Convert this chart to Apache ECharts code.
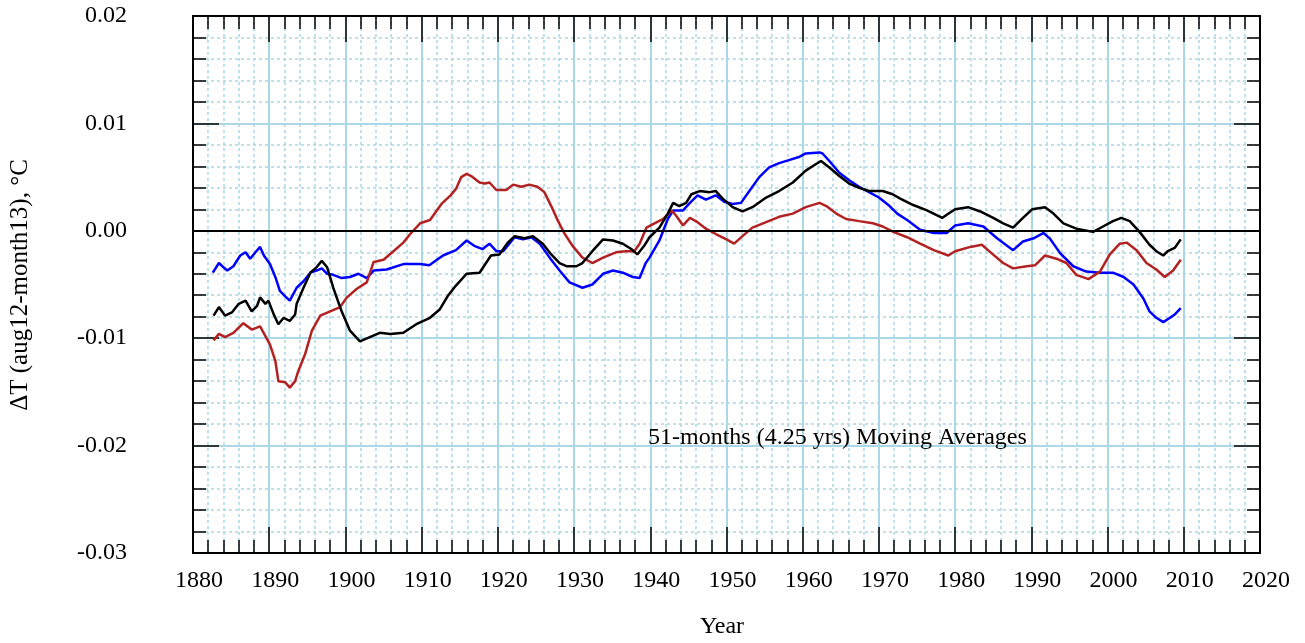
<!DOCTYPE html>
<html>
<head>
<meta charset="utf-8">
<script src="https://cdn.jsdelivr.net/npm/echarts@6/dist/echarts.min.js"></script>
<style>
html,body{margin:0;padding:0;background:#fff;}
#chart{width:1305px;height:643px;}
</style>
</head>
<body>
<div id="chart"></div>
<script>
// ---- data ----
var blueYears = [1882.6,1883.4,1884.0,1884.5,1885.3,1886.2,1886.9,1887.5,1888.2,1888.8,1889.3,1890.1,1890.8,1891.4,1892.1,1892.7,1893.6,1894.5,1895.4,1896.2,1896.9,1897.6,1898.4,1899.5,1900.6,1901.7,1902.8,1903.7,1905.4,1907.6,1909.8,1911.0,1912.8,1914.5,1915.9,1916.9,1918.0,1918.9,1919.8,1920.7,1922.2,1923.3,1924.4,1925.5,1926.8,1928.1,1929.4,1931.1,1932.4,1933.8,1935.1,1936.4,1937.7,1938.6,1939.4,1939.9,1941.2,1942.3,1943.0,1944.3,1945.2,1946.2,1947.3,1948.6,1949.7,1950.8,1951.9,1953.0,1954.3,1955.6,1956.9,1958.3,1959.6,1960.4,1962.2,1962.6,1963.5,1964.8,1966.1,1967.4,1968.7,1970.0,1971.4,1972.4,1973.7,1975.4,1977.2,1978.9,1980.0,1981.7,1983.7,1985.5,1987.6,1988.9,1990.3,1991.6,1992.4,1993.8,1995.5,1997.2,1999.0,2000.7,2002.1,2003.4,2004.7,2005.5,2006.4,2007.3,2008.2,2008.8,2009.6];
var blueValues = [-0.0039,-0.0030,-0.0034,-0.0037,-0.0033,-0.0023,-0.0020,-0.0026,-0.0020,-0.0015,-0.0023,-0.0031,-0.0043,-0.0056,-0.0061,-0.0065,-0.0053,-0.0047,-0.0039,-0.0037,-0.0035,-0.0040,-0.0041,-0.0044,-0.0043,-0.0040,-0.0044,-0.0037,-0.0036,-0.0031,-0.0031,-0.0032,-0.0023,-0.0018,-0.0009,-0.0014,-0.0017,-0.0012,-0.0019,-0.0019,-0.0006,-0.0008,-0.0006,-0.0012,-0.0025,-0.0037,-0.0048,-0.0053,-0.0050,-0.0040,-0.0037,-0.0039,-0.0043,-0.0044,-0.0030,-0.0025,-0.0009,0.0011,0.0019,0.0019,0.0026,0.0033,0.0029,0.0033,0.0027,0.0025,0.0026,0.0037,0.0050,0.0059,0.0063,0.0066,0.0069,0.0072,0.0073,0.0072,0.0065,0.0054,0.0047,0.0041,0.0036,0.0031,0.0023,0.0016,0.0010,0.0001,-0.0002,-0.0002,0.0005,0.0007,0.0004,-0.0007,-0.0018,-0.0010,-0.0007,-0.0002,-0.0007,-0.0021,-0.0033,-0.0038,-0.0039,-0.0039,-0.0043,-0.0050,-0.0063,-0.0075,-0.0081,-0.0085,-0.0081,-0.0078,-0.0072];

var blackYears = [1882.7,1883.4,1884.2,1885.1,1886.0,1886.9,1887.7,1888.4,1888.8,1889.5,1889.9,1890.6,1891.2,1891.9,1892.7,1893.4,1893.6,1894.5,1895.4,1896.2,1896.9,1897.6,1898.4,1899.5,1900.6,1901.9,1903.2,1904.5,1905.9,1907.6,1909.3,1911.1,1912.4,1913.4,1914.5,1915.9,1917.6,1919.1,1920.2,1921.3,1922.2,1923.5,1924.6,1925.9,1927.0,1928.1,1929.0,1930.3,1931.1,1932.4,1933.8,1935.1,1936.4,1937.5,1938.3,1939.2,1939.9,1941.2,1942.3,1943.0,1943.8,1944.7,1945.4,1946.5,1947.8,1948.6,1949.5,1950.8,1952.1,1953.4,1955.2,1956.9,1958.7,1960.4,1961.7,1962.4,1963.5,1964.8,1966.1,1967.4,1968.7,1970.5,1971.8,1972.8,1974.5,1976.3,1978.3,1978.9,1980.0,1981.7,1983.3,1985.0,1986.3,1987.6,1988.9,1990.1,1991.8,1992.9,1994.2,1995.9,1998.1,1999.4,2000.7,2001.8,2002.9,2004.2,2005.5,2006.4,2007.3,2007.9,2008.8,2009.6];
var blackValues = [-0.0079,-0.0071,-0.0079,-0.0076,-0.0068,-0.0065,-0.0075,-0.0070,-0.0062,-0.0068,-0.0065,-0.0078,-0.0087,-0.0081,-0.0084,-0.0078,-0.0068,-0.0053,-0.0039,-0.0034,-0.0028,-0.0034,-0.0053,-0.0075,-0.0093,-0.0103,-0.0099,-0.0095,-0.0096,-0.0095,-0.0087,-0.0081,-0.0073,-0.0061,-0.0051,-0.0040,-0.0039,-0.0023,-0.0022,-0.0011,-0.0005,-0.0007,-0.0005,-0.0012,-0.0022,-0.0030,-0.0033,-0.0033,-0.0030,-0.0019,-0.0008,-0.0009,-0.0012,-0.0017,-0.0022,-0.0014,-0.0006,0.0003,0.0016,0.0026,0.0023,0.0026,0.0034,0.0037,0.0036,0.0037,0.0030,0.0022,0.0018,0.0022,0.0031,0.0037,0.0045,0.0056,0.0062,0.0065,0.0059,0.0051,0.0044,0.0040,0.0037,0.0037,0.0034,0.0030,0.0024,0.0019,0.0012,0.0015,0.0020,0.0022,0.0018,0.0012,0.0007,0.0003,0.0012,0.0020,0.0022,0.0016,0.0007,0.0002,-0.0001,0.0004,0.0009,0.0012,0.0009,-0.0001,-0.0013,-0.0019,-0.0023,-0.0019,-0.0016,-0.0008];

var redYears = [1882.7,1883.4,1884.2,1885.3,1886.6,1887.7,1888.8,1889.5,1890.1,1890.8,1891.2,1892.1,1892.7,1893.4,1893.8,1894.7,1895.6,1896.7,1898.0,1899.3,1900.2,1901.5,1902.8,1903.7,1905.0,1906.3,1907.6,1908.5,1909.8,1911.1,1912.6,1913.8,1914.5,1915.2,1915.9,1916.5,1917.6,1918.3,1918.9,1919.8,1921.1,1922.0,1923.1,1924.1,1925.2,1926.1,1927.0,1927.9,1928.7,1929.8,1931.1,1932.4,1933.8,1935.5,1936.8,1937.9,1938.6,1939.5,1940.3,1941.7,1942.8,1943.4,1944.3,1945.2,1946.2,1947.3,1948.6,1950.0,1951.0,1952.1,1953.4,1955.2,1956.9,1958.7,1960.4,1962.2,1963.1,1964.4,1965.7,1967.4,1969.2,1970.5,1971.9,1973.7,1975.4,1977.2,1979.1,1980.0,1982.0,1983.5,1984.8,1986.3,1987.6,1989.4,1990.5,1991.8,1993.3,1994.6,1995.9,1997.5,1999.0,2000.3,2001.6,2002.5,2003.8,2005.1,2006.4,2007.5,2008.6,2009.6];
var redValues = [-0.0102,-0.0096,-0.0099,-0.0095,-0.0086,-0.0092,-0.0089,-0.0098,-0.0106,-0.0121,-0.0140,-0.0141,-0.0146,-0.0140,-0.0131,-0.0115,-0.0093,-0.0079,-0.0075,-0.0071,-0.0062,-0.0054,-0.0048,-0.0029,-0.0027,-0.0019,-0.0011,-0.0003,0.0007,0.0010,0.0025,0.0033,0.0039,0.0050,0.0053,0.0051,0.0045,0.0044,0.0045,0.0038,0.0038,0.0043,0.0041,0.0043,0.0041,0.0036,0.0023,0.0009,-0.0002,-0.0014,-0.0025,-0.0030,-0.0025,-0.0020,-0.0019,-0.0019,-0.0012,0.0003,0.0006,0.0011,0.0019,0.0014,0.0005,0.0012,0.0008,0.0002,-0.0003,-0.0008,-0.0012,-0.0005,0.0003,0.0008,0.0013,0.0016,0.0022,0.0026,0.0023,0.0016,0.0011,0.0009,0.0007,0.0004,-0.0001,-0.0006,-0.0012,-0.0018,-0.0023,-0.0019,-0.0015,-0.0013,-0.0021,-0.0030,-0.0035,-0.0033,-0.0032,-0.0023,-0.0026,-0.0030,-0.0041,-0.0045,-0.0038,-0.0022,-0.0012,-0.0011,-0.0018,-0.0030,-0.0036,-0.0043,-0.0037,-0.0027];

var xMin = 1880, xMax = 2020, xStep = 10;
var yMin = -0.03, yMax = 0.02, yStep = 0.01;
var yTitle = 'ΔT (aug12-month13), °C';
var xTitle = 'Year';
var note = '51-months (4.25 yrs) Moving Averages';

function pairs(xs, ys){ return xs.map(function(x,i){ return [x, ys[i]]; }); }

var FONT = 'Liberation Serif';
var gridBlue = '#abd8e6';

var chart = echarts.init(document.getElementById('chart'), null, {renderer:'canvas'});

function xAxisDef(pos, labels){
  return {
    type:'value', position:pos, min:xMin, max:xMax, interval:xStep,
    axisLine:{show:true, onZero:false, lineStyle:{color:'#000', width:2}},
    axisTick:{show:true, inside:true, length:26, lineStyle:{color:'#000', width:1.5}},
    minorTick:{show:true, splitNumber:5, length:13, lineStyle:{color:'#000', width:1.5}},
    axisLabel:{show:labels, color:'#000', fontFamily:FONT, fontSize:24, margin:16, padding:[0,0,0,12],
      formatter:function(v){ return String(Math.round(v)); }},
    splitLine:{show:labels, lineStyle:{color:gridBlue, width:2}},
    minorSplitLine:{show:labels, lineStyle:{color:gridBlue, width:1.5, type:[3,3]}}
  };
}
function yAxisDef(pos, labels){
  return {
    type:'value', position:pos, min:yMin, max:yMax, interval:yStep,
    axisLine:{show:true, onZero:false, lineStyle:{color:'#000', width:2}},
    axisTick:{show:true, inside:true, length:26, lineStyle:{color:'#000', width:1.5}},
    minorTick:{show:true, splitNumber:5, length:13, lineStyle:{color:'#000', width:1.5}},
    axisLabel:{show:labels, color:'#000', fontFamily:FONT, fontSize:24, margin:66,
      formatter:function(v){ return v.toFixed(2); }},
    splitLine:{show:labels, lineStyle:{color:gridBlue, width:2}},
    minorSplitLine:{show:labels, lineStyle:{color:gridBlue, width:1.5, type:[3,3]}}
  };
}

var option = {
  animation:false,
  backgroundColor:'#fff',
  grid:{left:193, top:16, width:1067, height:537, containLabel:false},
  xAxis:[xAxisDef('bottom', true), xAxisDef('top', false)],
  yAxis:[yAxisDef('left', true), yAxisDef('right', false)],
  graphic:[
    {type:'text', x:20, y:285, rotation:Math.PI/2,
      style:{text:yTitle, fill:'#000', font:'25px "Liberation Serif"', textAlign:'center', textVerticalAlign:'middle'}},
    {type:'text', x:722, y:627,
      style:{text:xTitle, fill:'#000', font:'24px "Liberation Serif"', textAlign:'center', textVerticalAlign:'middle'}},
    {type:'text', x:648, y:438, z:10,
      style:{text:note, fill:'#000', font:'24px "Liberation Serif"', textAlign:'left', textVerticalAlign:'middle'}}
  ],
  series:[
    {type:'line', name:'blue', data:pairs(blueYears, blueValues), showSymbol:false, symbol:'none',
      lineStyle:{color:'#0000ff', width:2.5}, z:3,
      markLine:{silent:true, symbol:'none', label:{show:false}, lineStyle:{color:'#000', width:2, type:'solid'},
        data:[{yAxis:0}]}},
    {type:'line', name:'red', data:pairs(redYears, redValues), showSymbol:false, symbol:'none',
      lineStyle:{color:'#b22222', width:2.5}, z:4},
    {type:'line', name:'black', data:pairs(blackYears, blackValues), showSymbol:false, symbol:'none',
      lineStyle:{color:'#000000', width:2.5}, z:5}
  ]
};
chart.setOption(option);
</script>
</body>
</html>
